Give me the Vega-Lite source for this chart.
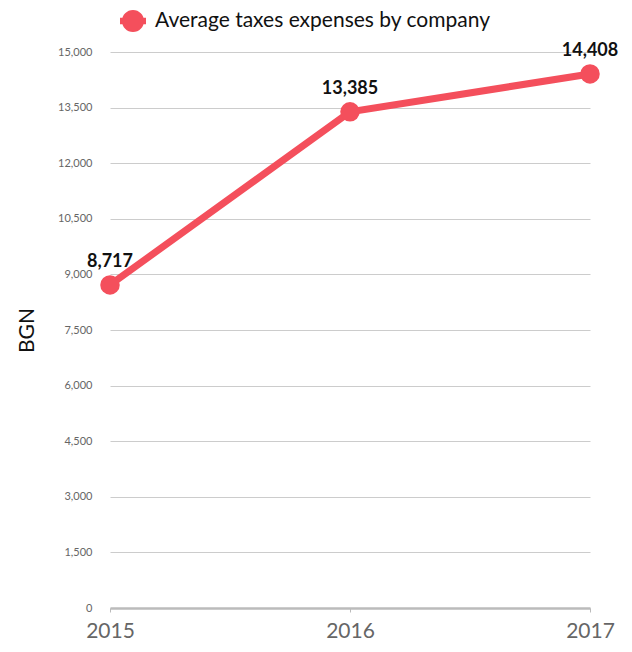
{
  "$schema": "https://vega.github.io/schema/vega-lite/v6.json",
  "autosize": "none",
  "width": 480,
  "height": 556,
  "padding": {"left": 110, "top": 52, "right": 42, "bottom": 44},
  "background": "white",
  "config": {
    "font": "Lato",
    "view": {"stroke": null}
  },
  "data": {
    "values": [
      {"year": "2015", "value": 8717, "series": "Average taxes expenses by company"},
      {"year": "2016", "value": 13385, "series": "Average taxes expenses by company"},
      {"year": "2017", "value": 14408, "series": "Average taxes expenses by company"}
    ]
  },
  "encoding": {
    "x": {
      "field": "year",
      "type": "ordinal",
      "scale": {"type": "point", "padding": 0},
      "axis": {
        "title": null,
        "labelAngle": 0,
        "labelFontSize": 21,
        "labelColor": "#666666",
        "labelPadding": 8,
        "tickColor": "#bbbbbb",
        "tickSize": 4,
        "domainColor": "#bbbbbb",
        "domainWidth": 2.5,
        "grid": false
      }
    },
    "y": {
      "field": "value",
      "type": "quantitative",
      "scale": {"domain": [0, 15000], "nice": false},
      "axis": {
        "title": "BGN",
        "titleFontSize": 21,
        "titleFontWeight": "normal",
        "titleColor": "#111111",
        "titlePadding": 20,
        "values": [0, 1500, 3000, 4500, 6000, 7500, 9000, 10500, 12000, 13500, 15000],
        "format": ",d",
        "labelFontSize": 11,
        "labelColor": "#666666",
        "labelPadding": 18,
        "ticks": false,
        "domain": false,
        "grid": true,
        "gridColor": "#cccccc",
        "gridWidth": 1
      }
    },
    "color": {
      "field": "series",
      "type": "nominal",
      "scale": {"range": ["#f44f5c"]},
      "legend": {
        "title": null,
        "orient": "none",
        "legendX": 10,
        "legendY": -44,
        "labelFontSize": 21,
        "labelColor": "#111111",
        "labelLimit": 500,
        "symbolSize": 676,
        "symbolType": "M0.85,0 A0.85,0.85 0 1,1 -0.85,0 A0.85,0.85 0 1,1 0.85,0 Z M-1,-0.25 H1 V0.25 H-1 Z",
        "symbolStrokeWidth": 0,
        "symbolFillColor": "#f44f5c",
        "labelOffset": 9
      }
    }
  },
  "layer": [
    {"mark": {"type": "line", "strokeWidth": 7}},
    {"mark": {"type": "point", "filled": true, "size": 380, "opacity": 1}},
    {
      "mark": {"type": "text", "dy": -23, "fontSize": 18, "fontWeight": "bold", "color": "#111111"},
      "encoding": {
        "text": {"field": "value", "type": "quantitative", "format": ","},
        "color": {"value": "#111111"}
      }
    }
  ]
}
